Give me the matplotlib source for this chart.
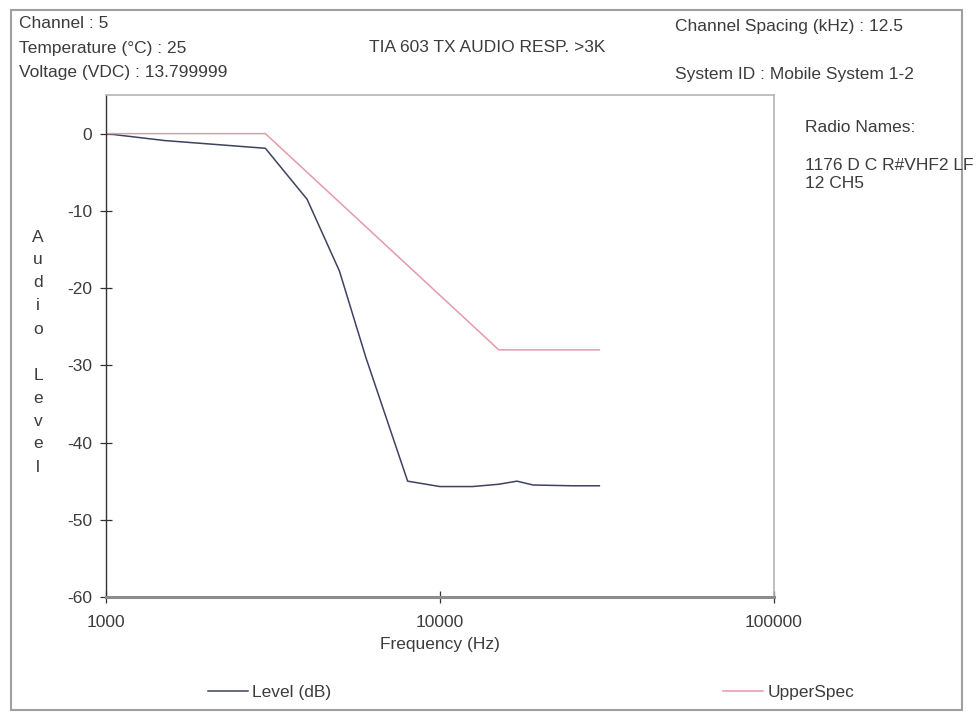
import matplotlib
matplotlib.use("Agg")
import matplotlib.pyplot as plt
from matplotlib.lines import Line2D
from matplotlib.patches import Rectangle

plt.rcParams["font.family"] = ["Liberation Sans", "DejaVu Sans"]

# measured TX audio response
level_freq = [1000, 1500, 3000, 4000, 5000, 6000, 8000, 10000, 12500, 15000, 17000, 19000, 25000, 30000]
level_db = [0.0, -0.9, -1.9, -8.5, -17.8, -29.0, -45.0, -45.7, -45.7, -45.4, -45.0, -45.5, -45.6, -45.6]

# TIA-603 upper limit above 3 kHz
spec_freq = [1000, 3000, 15000, 30000]
spec_db = [0.0, 0.0, -28.0, -28.0]

y_ticks = [0, -10, -20, -30, -40, -50, -60]
x_ticks = [1000, 10000, 100000]

header_left = ["Channel : 5", "Temperature (°C) : 25", "Voltage (VDC) : 13.799999"]
title = "TIA 603 TX AUDIO RESP. >3K"
spacing_text = "Channel Spacing (kHz) : 12.5"
system_text = "System ID : Mobile System 1-2"
radio_lines = ["Radio Names:", "1176 D C R#VHF2 LF", "12 CH5"]

W, H = 976, 716
FS = 12.5
TEXT = "#3c3c3c"
LEVEL_COLOR = "#3d4260"
SPEC_COLOR = "#e39aab"


def fx(px):
    return px / W


def fy(py):
    return 1 - py / H


fig = plt.figure(figsize=(W / 100, H / 100), dpi=100)

# outer frame round the whole report
fig.patches.append(Rectangle((fx(11), fy(710)), fx(962) - fx(11), fy(10) - fy(710),
                             transform=fig.transFigure, fill=False,
                             edgecolor="#a0a0a0", linewidth=1.5))

ax = fig.add_axes([fx(106), fy(597), fx(774) - fx(106), fy(95) - fy(597)])
ax.semilogx(level_freq, level_db, color=LEVEL_COLOR, linewidth=1.1, label="Level (dB)")
ax.semilogx(spec_freq, spec_db, color=SPEC_COLOR, linewidth=1.1, label="UpperSpec")

ax.set_xlim(1000, 100000)
ax.set_ylim(-60, 5)
ax.set_xticks(x_ticks)
ax.set_xticklabels([str(t) for t in x_ticks])
ax.xaxis.set_minor_locator(matplotlib.ticker.NullLocator())
ax.set_yticks(y_ticks)
ax.set_yticklabels([str(t) for t in y_ticks])
ax.tick_params(axis="both", direction="inout", length=8, width=0.9, color="#333333",
               labelsize=FS, labelcolor=TEXT)
ax.tick_params(axis="y", pad=6)
ax.tick_params(axis="x", pad=9)

ax.spines["left"].set_color("#333333")
ax.spines["left"].set_linewidth(1.0)
ax.spines["bottom"].set_color("#8c8c8c")
ax.spines["bottom"].set_linewidth(2.2)
for side in ("top", "right"):
    ax.spines[side].set_color("#b4b4b4")
    ax.spines[side].set_linewidth(1.2)

ax.set_xlabel("Frequency (Hz)", fontsize=FS, color=TEXT, labelpad=5)

# stacked y-axis caption
caption = list("Audio") + [""] + list("Level")
for i, ch in enumerate(caption):
    fig.text(fx(38), fy(237 + i * 23), ch, fontsize=FS, color=TEXT, ha="center", va="center")

for i, line in enumerate(header_left):
    fig.text(fx(19), fy(24 + i * 24), line, fontsize=FS, color=TEXT, ha="left", va="center")
fig.text(fx(369), fy(48), title, fontsize=FS, color=TEXT, ha="left", va="center")
fig.text(fx(675), fy(27), spacing_text, fontsize=FS, color=TEXT, ha="left", va="center")
fig.text(fx(675), fy(75), system_text, fontsize=FS, color=TEXT, ha="left", va="center")
fig.text(fx(805), fy(128), radio_lines[0], fontsize=FS, color=TEXT, ha="left", va="center")
fig.text(fx(805), fy(166), radio_lines[1], fontsize=FS, color=TEXT, ha="left", va="center")
fig.text(fx(805), fy(183), radio_lines[2], fontsize=FS, color=TEXT, ha="left", va="center")

# two legend entries, spread along the bottom
for handle, x0 in ((ax.lines[0], 208), (ax.lines[1], 723)):
    fig.legend(handles=[Line2D([], [], color=handle.get_color(), linewidth=1.1)],
               labels=[handle.get_label()], loc="center left",
               bbox_to_anchor=(fx(x0), fy(692)), frameon=False, fontsize=FS,
               handlelength=2.3, handletextpad=0.25, borderpad=0, borderaxespad=0,
               labelcolor=TEXT)

fig.savefig("out.png", dpi=100)
